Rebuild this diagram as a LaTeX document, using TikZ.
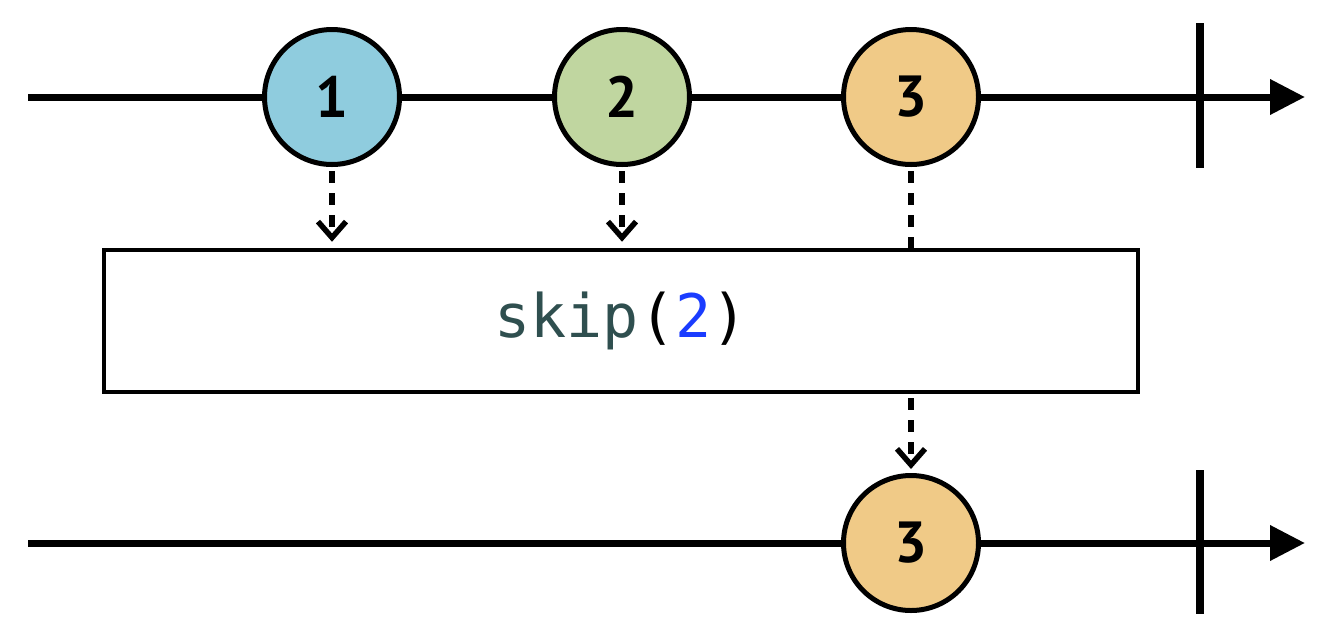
\documentclass[tikz,border=0pt]{standalone}
\usepackage{fontspec}
\setmonofont{DejaVu Sans Mono}
\newfontfamily\digitfont{PT Sans}
\usetikzlibrary{arrows.meta}
\definecolor{mblue}{RGB}{143,204,222}
\definecolor{mgreen}{RGB}{192,214,160}
\definecolor{morange}{RGB}{240,202,135}
\definecolor{codeslate}{RGB}{47,79,79}
\definecolor{codeblue}{RGB}{26,60,255}
\begin{document}
\begin{tikzpicture}[x=1pt,y=-1pt,
  timeline/.style={line width=7pt,-{Triangle[length=35pt,width=34pt]}},
  endtick/.style={line width=7.5pt},
  marble/.style={circle,draw=black,line width=5pt,minimum size=135pt,inner sep=0pt,
    font=\digitfont\bfseries\fontsize{58}{58}\selectfont},
  opbox/.style={draw=black,line width=4.5pt,fill=white,minimum width=1034pt,minimum height=142pt,inner sep=0pt},
  dashline/.style={line width=5.5pt,dash pattern=on 12pt off 10pt,shorten <=4pt},
  dasharrow/.style={dashline,-{Straight Barb[length=16pt,width=28pt]},shorten >=6pt}]
\useasboundingbox (0,0) rectangle (1326,638);
% top timeline
\coordinate (ts) at (28,97);
\coordinate (te) at (1305,97);
\coordinate (tt1) at (1200,23);
\coordinate (tt2) at (1200,168);
\draw[timeline] (ts) -- (te);
\draw[endtick] (tt1) -- (tt2);
\node[marble,fill=mblue] (c1) at (332,97) {1};
\node[marble,fill=mgreen] (c2) at (622,97) {2};
\node[marble,fill=morange] (c3) at (911,97) {3};
% operator box
\node[opbox] (box) at (621,321) {\ttfamily\fontsize{60}{60}\selectfont\color{codeslate}skip\color{black}(\color{codeblue}2\color{black})};
% bottom timeline
\coordinate (bs) at (28,543);
\coordinate (be) at (1305,543);
\coordinate (bt1) at (1200,470);
\coordinate (bt2) at (1200,614);
\draw[timeline] (bs) -- (be);
\draw[endtick] (bt1) -- (bt2);
\node[marble,fill=morange] (d3) at (911,543) {3};
% connectors
\draw[dasharrow] (c1.south) -- (c1 |- box.north);
\draw[dasharrow] (c2.south) -- (c2 |- box.north);
\draw[dashline] (c3.south) -- (c3 |- box.north);
\draw[dasharrow,shorten <=4pt,shorten >=4pt] (d3 |- box.south) -- (d3.north);
\end{tikzpicture}
\end{document}
